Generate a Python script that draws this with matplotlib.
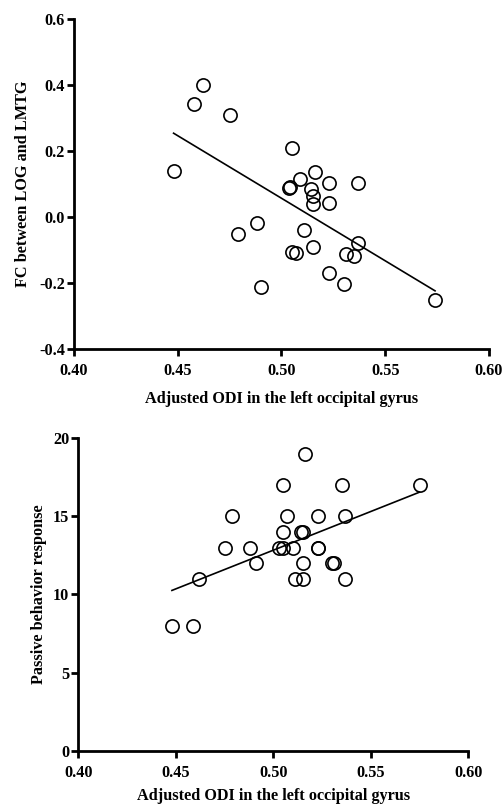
import numpy as np
import matplotlib
matplotlib.use('Agg')
import matplotlib.pyplot as plt

plt.rcParams['font.family'] = ['Liberation Serif', 'DejaVu Serif']
plt.rcParams['font.weight'] = 'bold'

# FC between LOG and LMTG vs adjusted ODI
odi_fc = [0.462, 0.458, 0.475, 0.448, 0.505, 0.516, 0.509, 0.523, 0.537, 0.504,
          0.5035, 0.514, 0.515, 0.515, 0.523, 0.488, 0.479, 0.511, 0.537, 0.515,
          0.505, 0.507, 0.531, 0.535, 0.523, 0.530, 0.490, 0.574]
fc_vals = [0.400, 0.342, 0.309, 0.139, 0.210, 0.137, 0.116, 0.102, 0.102, 0.090,
           0.087, 0.084, 0.064, 0.039, 0.042, -0.017, -0.051, -0.040, -0.078, -0.090,
           -0.105, -0.110, -0.112, -0.118, -0.169, -0.203, -0.211, -0.252]

# passive behavior response vs adjusted ODI
odi_pb = [0.516, 0.505, 0.535, 0.575, 0.479, 0.507, 0.523, 0.537, 0.505, 0.514,
          0.515, 0.475, 0.488, 0.503, 0.505, 0.510, 0.523, 0.523, 0.491, 0.515,
          0.530, 0.531, 0.462, 0.511, 0.515, 0.537, 0.448, 0.459]
pb_vals = [19, 17, 17, 17, 15, 15, 15, 15, 14, 14,
           14, 13, 13, 13, 13, 13, 13, 13, 12, 12,
           12, 12, 11, 11, 11, 11, 8, 8]

xticks = [0.40, 0.45, 0.50, 0.55, 0.60]
xlabel = 'Adjusted ODI in the left occipital gyrus'
FS = 11.7


def style_axes(ax):
    for s in ['top', 'right']:
        ax.spines[s].set_visible(False)
    for s in ['left', 'bottom']:
        ax.spines[s].set_linewidth(2.0)
    ax.tick_params(width=2.0, length=5, labelsize=FS)
    ax.tick_params(axis='x', pad=5)
    ax.tick_params(axis='y', pad=1.5)
    for lbl in ax.get_xticklabels() + ax.get_yticklabels():
        lbl.set_fontweight('bold')


def scatter_fit(ax, x, y):
    x = np.array(x)
    y = np.array(y)
    ax.plot(x, y, 'o', mfc='none', mec='black', ms=9.5, mew=1.2, clip_on=False)
    k, b = np.polyfit(x, y, 1)
    xs = np.array([x.min(), x.max()])
    ax.plot(xs, k * xs + b, color='black', lw=1.2)


fig = plt.figure(figsize=(5.04, 8.05), dpi=100)

ax1 = fig.add_axes([0.1468, 0.5665, 0.8234, 0.4099])
scatter_fit(ax1, odi_fc, fc_vals)
ax1.set_xlim(0.40, 0.60)
ax1.set_ylim(-0.4, 0.6)
ax1.set_xticks(xticks)
ax1.set_xticklabels([f'{t:.2f}' for t in xticks])
ax1.set_yticks([-0.4, -0.2, 0.0, 0.2, 0.4, 0.6])
ax1.set_yticklabels(['-0.4', '-0.2', '0.0', '0.2', '0.4', '0.6'])
ax1.set_xlabel(xlabel, fontsize=FS, fontweight='bold', labelpad=9)
ax1.set_ylabel('FC between LOG and LMTG', fontsize=FS, fontweight='bold', labelpad=6)
style_axes(ax1)

ax2 = fig.add_axes([0.1554, 0.0671, 0.7738, 0.3888])
scatter_fit(ax2, odi_pb, pb_vals)
ax2.set_xlim(0.40, 0.60)
ax2.set_ylim(0, 20)
ax2.set_xticks(xticks)
ax2.set_xticklabels([f'{t:.2f}' for t in xticks])
ax2.set_yticks([0, 5, 10, 15, 20])
ax2.set_xlabel(xlabel, fontsize=FS, fontweight='bold', labelpad=5)
ax2.set_ylabel('Passive behavior response', fontsize=FS, fontweight='bold', labelpad=4)
style_axes(ax2)

fig.savefig('out.png', dpi=100)
